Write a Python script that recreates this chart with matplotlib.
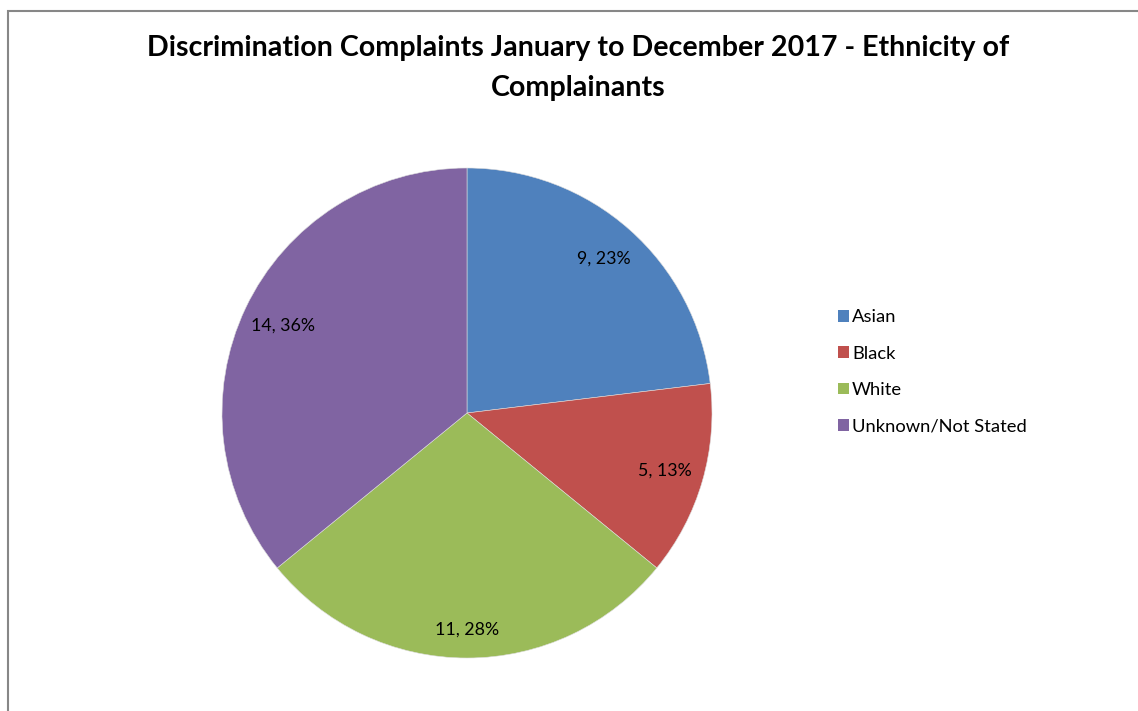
import matplotlib
matplotlib.use("Agg")
import matplotlib.pyplot as plt
from matplotlib.patches import Rectangle
import numpy as np

categories = ["Asian", "Black", "White", "Unknown/Not Stated"]
values = [9, 5, 11, 14]
colors = ["#4F81BD", "#C0504D", "#9BBB59", "#8064A2"]
title = "Discrimination Complaints January to December 2017 - Ethnicity of\nComplainants"

plt.rcParams['font.family'] = ['Lato', 'DejaVu Sans']

W, H = 1138, 711
fig = plt.figure(figsize=(W / 100, H / 100), dpi=100)

# frame (cropped at right and bottom)
fig.add_artist(Rectangle((8 / W, -0.05), 1.2, 1 - 11 / H + 0.05, transform=fig.transFigure,
                         fill=False, edgecolor="#878787", linewidth=1.5))

cx, cy, R = 467, 413, 245
ax = fig.add_axes([(cx - R) / W, (H - cy - R) / H, 2 * R / W, 2 * R / H])
total = sum(values)

wedges, texts = ax.pie(values, colors=colors, startangle=90, counterclock=False,
                       radius=1, wedgeprops=dict(edgecolor="#dddddd", linewidth=0.4))[:2]
dists = [0.84, 0.84, 0.885, 0.83]
for w, v, d in zip(wedges, values, dists):
    ang = np.deg2rad((w.theta1 + w.theta2) / 2)
    ax.text(d * np.cos(ang), d * np.sin(ang), f"{v}, {round(v / total * 100)}%",
            ha="center", va="center", fontsize=12.8, color="#000000")
ax.set_xlim(-1, 1)
ax.set_ylim(-1, 1)
ax.set_aspect("equal")
ax.axis("off")

fig.text(578 / W, 1 - 68 / H, title, ha="center", va="center", fontsize=20.6,
         fontweight="bold", linespacing=1.62)

handles = [Rectangle((0, 0), 1, 1, facecolor=c, edgecolor="none") for c in colors]
leg = fig.legend(handles, categories, loc="upper left", bbox_to_anchor=(831 / W, 1 - 302 / H),
                 frameon=False, fontsize=13.2, handlelength=0.6, handleheight=0.6,
                 handletextpad=0.15, labelspacing=1.11, borderaxespad=0)

fig.savefig("out.png", dpi=100)
